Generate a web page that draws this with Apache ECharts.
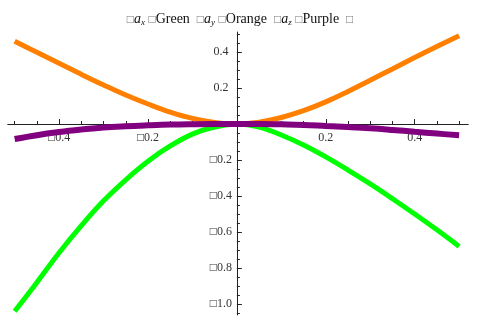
<!DOCTYPE html>
<html>
<head>
<meta charset="utf-8">
<script src="https://cdn.jsdelivr.net/npm/echarts@6/dist/echarts.min.js"></script>
<style>
  html, body { margin: 0; padding: 0; background: #fff; }
  #chart { width: 480px; height: 320px; }
</style>
</head>
<body>
<div id="chart"></div>
<script>
const xs = [-0.5, -0.45, -0.4, -0.35, -0.3, -0.25, -0.2, -0.15, -0.1, -0.05, 0,
            0.05, 0.1, 0.15, 0.2, 0.25, 0.3, 0.35, 0.4, 0.45, 0.5];
const axGreen = [-1.04, -0.88, -0.715, -0.565, -0.427, -0.31, -0.207, -0.122, -0.056, -0.017, 0,
                 -0.017, -0.061, -0.117, -0.183, -0.256, -0.333, -0.415, -0.5, -0.588, -0.68];
const ayOrange = [0.46, 0.398, 0.337, 0.276, 0.217, 0.161, 0.111, 0.066, 0.031, 0.009, 0,
                  0.01, 0.036, 0.074, 0.123, 0.181, 0.243, 0.306, 0.369, 0.43, 0.49];
const azPurple = [-0.083, -0.062, -0.045, -0.031, -0.019, -0.012, -0.007, -0.003, -0.001, 0, 0,
                  0, -0.002, -0.005, -0.011, -0.017, -0.024, -0.033, -0.043, -0.053, -0.063];

const xMajor = [-0.4, -0.2, 0.2, 0.4];
const xMinor = [-0.5, -0.45, -0.35, -0.3, -0.25, -0.15, -0.1, -0.05, 0.05, 0.1, 0.15, 0.25, 0.3, 0.35, 0.45, 0.5];
const yMajor = [-1.0, -0.8, -0.6, -0.4, -0.2, 0.2, 0.4];
const yMinor = [-1.05, -0.95, -0.9, -0.85, -0.75, -0.7, -0.65, -0.55, -0.5, -0.45, -0.35, -0.3, -0.25,
                -0.15, -0.1, -0.05, 0.05, 0.1, 0.15, 0.25, 0.3, 0.35, 0.45, 0.5];

const FONT = '"Liberation Serif", "DejaVu Serif", serif';
const fmt = (v) => (v < 0 ? '\u25A1' : '') + Math.abs(v).toFixed(1);
const pairs = (ys) => xs.map((x, i) => [x, ys[i]]);

const W = 480, H = 320;
const GRID = { left: 8, right: 12, top: 32.2, bottom: 5.2 };
const X_RANGE = { min: -0.515, max: 0.52 };
const Y_RANGE = { min: -1.06, max: 0.51 };
// onZero labels stay on the grid edge in this build, so shift the axes to the origin with offset
const gw = W - GRID.left - GRID.right, gh = H - GRID.top - GRID.bottom;
const yAxisShift = -gw * (0 - X_RANGE.min) / (X_RANGE.max - X_RANGE.min);
const xAxisShift = -gh * (0 - Y_RANGE.min) / (Y_RANGE.max - Y_RANGE.min);
const LINE = { lineStyle: { color: '#222', width: 1 }, onZero: false };

function xAxis(ticks, len, labels) {
  return {
    type: 'value', ...X_RANGE, position: 'bottom', offset: xAxisShift,
    splitLine: { show: false },
    axisLine: LINE,
    axisTick: { inside: true, length: len, customValues: ticks, lineStyle: { color: '#222' } },
    axisLabel: labels ? { customValues: labels, formatter: fmt, color: '#333', fontFamily: FONT, fontSize: 12, margin: 8 }
                      : { show: false },
  };
}
function yAxis(ticks, len, labels) {
  return {
    type: 'value', ...Y_RANGE, position: 'left', offset: yAxisShift,
    splitLine: { show: false },
    axisLine: LINE,
    axisTick: { inside: true, length: len, customValues: ticks, lineStyle: { color: '#222' } },
    axisLabel: labels ? { customValues: labels, formatter: fmt, color: '#333', fontFamily: FONT, fontSize: 12,
                          margin: 16, align: 'center' }
                      : { show: false },
  };
}

const curve = (name, ys, color, width) => ({
  name, type: 'line', data: pairs(ys), smooth: 0.4, showSymbol: false, clip: false,
  lineStyle: { color, width, cap: 'butt' }, silent: true,
});

const chart = echarts.init(document.getElementById('chart'));
chart.setOption({
  animation: false,
  title: {
    left: 'center', top: 7,
    text: '{b|\u25A1}{i|a}{s|x} {b|\u25A1}Green  {b|\u25A1}{i|a}{s|y} {b|\u25A1}Orange  {b|\u25A1}{i|a}{s|z} {b|\u25A1}Purple  {b|\u25A1}',
    textStyle: {
      fontFamily: FONT, fontSize: 14, fontWeight: 'normal', color: '#111',
      rich: {
        b: { fontFamily: FONT, fontSize: 12, color: '#777' },
        i: { fontFamily: FONT, fontSize: 14, fontStyle: 'italic', color: '#111' },
        s: { fontFamily: FONT, fontSize: 9, fontStyle: 'italic', color: '#111', verticalAlign: 'bottom', padding: [6, 0, 0, 0] },
      },
    },
  },
  grid: { ...GRID, outerBoundsMode: 'none', containLabel: false },
  xAxis: [xAxis(xMajor, 5, xMajor), xAxis(xMinor, 3, null)],
  yAxis: [yAxis(yMajor, 5, yMajor), yAxis(yMinor, 3, null)],
  series: [
    curve('Green', axGreen, '#00ff00', 5),
    curve('Orange', ayOrange, '#ff8000', 5),
    curve('Purple', azPurple, '#800080', 6),
  ],
});
</script>
</body>
</html>
